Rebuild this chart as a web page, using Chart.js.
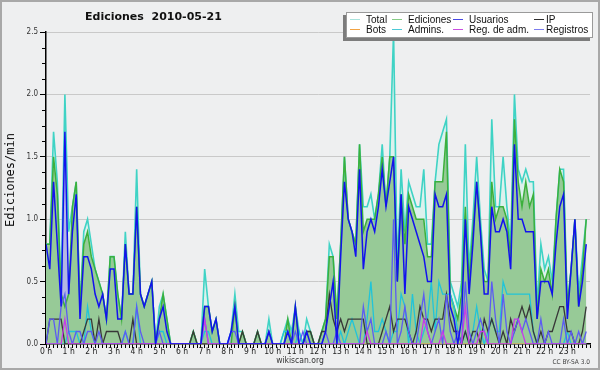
<!DOCTYPE html>
<html><head><meta charset="utf-8">
<script src="https://cdn.jsdelivr.net/npm/chart.js@4.4.1/dist/chart.umd.min.js"></script>
<style>
html,body{margin:0;padding:0;background:#eeeff0;}
#wrap{position:relative;width:600px;height:370px;overflow:hidden;}
canvas{position:absolute;left:0;top:0;}
.t{position:absolute;white-space:pre;color:#111;}
#title{left:85px;top:10px;font:bold 11px/13px "DejaVu Sans",sans-serif;}
#ytitle{left:-50px;top:173px;width:120px;height:14px;text-align:center;font:12px/14px "DejaVu Sans Mono",monospace;transform:rotate(-90deg);}
#legend{position:absolute;left:346px;top:12px;width:245px;height:24px;background:#fff;border:1px solid #9a9a9a;box-shadow:-3px 3px 0 0 #7c7c7c;}
.li{position:absolute;font:10px/10px "Liberation Sans",sans-serif;color:#111;white-space:pre;}
.ls{position:absolute;height:1px;width:10px;}
#site{left:250px;width:100px;text-align:center;top:355px;font:8.5px/10px "DejaVu Sans Condensed","DejaVu Sans",sans-serif;font-stretch:condensed;color:#333;}
#lic{right:10px;top:358px;font:6.5px/8px "DejaVu Sans Condensed","DejaVu Sans",sans-serif;font-stretch:condensed;color:#444;}
</style></head><body>
<div id="wrap">
<canvas id="c" width="600" height="370"></canvas>
<div id="title" class="t">Ediciones  2010-05-21</div>
<div id="ytitle" class="t">Ediciones/min</div>
<div id="legend"></div>
<div id="site" class="t">wikiscan.org</div>
<div id="lic" class="t">CC BY-SA 3.0</div>
</div>
<script>
// x = index of 10-minute slot (0 .. 143), hour labels every 6 slots
const hourLabels = ['0 h','1 h','2 h','3 h','4 h','5 h','6 h','7 h','8 h','9 h','10 h','11 h',
  '12 h','13 h','14 h','15 h','16 h','17 h','18 h','19 h','20 h','21 h','22 h','23 h'];
const seriesNames = ['Total','Ediciones','Usuarios','IP','Bots','Admins.','Reg. de adm.','Registros'];

const total = [
 0.8,0.8,1.7,1.3,0.4,2.0,0.9,1.1,1.3,0.3,0.9,1.0,
 0.8,0.6,0.5,0.4,0.2,0.7,0.7,0.4,0.2,0.9,0.4,0.4,
 1.4,0.4,0.3,0.4,0.5,0,0.3,0.4,0.2,0,0,0,
 0,0,0,0.1,0,0,0.6,0.3,0.1,0.2,0,0,
 0,0.1,0.4,0.1,0.1,0,0,0,0.1,0,0,0.2,
 0,0,0,0.1,0.2,0.1,0.3,0.1,0,0.2,0.1,0,
 0,0.1,0.2,0.8,0.7,0.2,0.8,1.5,1.0,0.9,0.8,1.6,
 1.1,1.1,1.2,1.0,1.2,1.6,1.1,1.5,2.5,0.6,1.4,0.9,
 1.3,1.2,1.1,1.1,1.4,0.8,0.8,1.3,1.6,1.7,1.8,0.5,
 0.4,0.3,0.5,1.6,0.6,1.0,1.5,1.0,0.6,0.5,1.8,1.1,
 1.1,1.5,1.1,0.8,2.0,1.4,1.3,1.4,1.3,1.3,0.3,0.8,
 0.6,0.7,0.5,1.0,1.4,1.4,0.3,0.6,1.0,0.4,0.7,1.0];
const ediciones = [
 0.8,0.8,1.5,1.2,0.4,0.3,0.4,1.1,1.3,0.3,0.8,0.9,
 0.7,0.6,0.5,0.4,0.2,0.7,0.7,0.4,0.2,0.8,0.4,0.4,
 1.1,0.4,0.3,0.4,0.5,0,0.2,0.4,0.2,0,0,0,
 0,0,0,0.1,0,0,0.3,0.3,0.1,0.2,0,0,
 0,0,0.3,0,0.1,0,0,0,0.1,0,0,0.1,
 0,0,0,0,0.2,0,0.3,0,0,0.1,0.1,0,
 0,0.1,0.2,0.7,0.7,0.2,0.8,1.5,1.0,0.9,0.8,1.6,
 0.9,1.0,1.0,1.0,1.2,1.5,1.1,1.5,1.5,0.5,1.2,0.8,
 1.2,1.1,1.0,1.0,1.0,0.7,0.7,1.3,1.3,1.3,1.7,0.4,
 0.3,0.2,0.4,1.1,0.5,0.9,1.3,0.9,0.5,0.5,1.3,1.0,
 1.1,1.1,1.0,0.7,1.8,1.3,1.1,1.3,1.1,1.2,0.2,0.6,
 0.5,0.6,0.4,1.0,1.4,1.3,0.3,0.6,1.0,0.3,0.6,1.0];
const usuarios = [
 0.8,0.6,1.3,0.8,0.3,1.7,0.4,0.9,1.2,0.2,0.7,0.7,
 0.6,0.4,0.3,0.4,0.2,0.6,0.6,0.2,0.2,0.8,0.4,0.4,
 1.1,0.4,0.3,0.4,0.5,0,0.2,0.3,0.1,0,0,0,
 0,0,0,0,0,0,0.3,0.3,0.1,0.2,0,0,
 0,0.1,0.3,0,0,0,0,0,0,0,0,0.1,
 0,0,0,0,0.1,0,0.3,0,0,0.1,0,0,
 0,0,0.1,0.3,0.5,0,0.7,1.3,1.0,0.9,0.7,1.4,
 0.6,0.9,1.0,0.9,1.1,1.4,1.1,1.3,1.5,0.5,1.2,0.4,
 1.1,1.0,0.9,0.8,0.7,0.5,0.5,1.2,1.1,1.1,1.2,0.3,
 0.2,0,0.2,1.0,0.4,0.8,1.3,0.9,0.4,0.4,1.1,0.9,
 0.9,1.0,0.9,0.6,1.6,1.0,1.0,0.9,0.9,0.9,0.2,0.5,
 0.5,0.5,0.4,0.8,1.1,1.2,0.2,0.6,1.0,0.3,0.5,0.8];
const ip = [
 0,0.2,0.2,0.2,0.2,0,0,0,0,0,0.1,0.2,
 0.2,0,0.2,0,0.1,0.1,0.1,0.1,0,0,0,0.2,
 0,0,0,0,0,0,0,0,0,0,0,0,
 0,0,0,0.1,0,0,0,0,0,0,0,0,
 0,0,0,0,0.1,0,0,0,0.1,0,0,0,
 0,0,0,0,0,0,0,0,0,0.1,0.1,0,
 0,0.1,0.1,0.4,0.2,0.1,0.2,0.1,0.2,0.2,0.2,0.2,
 0.2,0,0,0,0,0.1,0.2,0.3,0.1,0.2,0.2,0.2,
 0.1,0,0.1,0.3,0.2,0.2,0.1,0.2,0.2,0.2,0.4,0.2,
 0.1,0.1,0,0.1,0,0.1,0.1,0,0.2,0.1,0.2,0.1,
 0,0.1,0,0.2,0.1,0.2,0.3,0.2,0.3,0.1,0,0.1,
 0,0.1,0.1,0.2,0.3,0.3,0.1,0.1,0,0,0.1,0.3];
const bots = [
 0,0,0,0,0,0,0,0,0,0,0,0, 0,0,0,0,0,0,0,0,0,0,0,0,
 0,0,0,0,0,0,0,0,0,0,0,0, 0,0,0,0,0,0,0,0,0,0,0,0,
 0,0,0,0,0,0,0,0,0,0,0,0, 0,0,0,0,0,0,0,0,0,0,0,0,
 0,0,0,0,0,0,0,0,0,0,0,0, 0,0,0,0,0,0,0,0,0,0,0,0,
 0,0,0,0,0,0,0,0,0,0,0,0, 0,0,0,0,0,0,0,0,0,0,0,0,
 0,0,0,0,0,0,0,0,0,0,0,0, 0,0,0,0,0,0,0,0,0,0,0,0];
const admins = [
 0,0,0,0,0,0,0.1,0.1,0.1,0,0,0.3,
 0.1,0,0,0,0,0,0,0,0,0.1,0,0,
 0.3,0,0,0,0,0,0.1,0.1,0,0,0,0,
 0,0,0,0,0,0,0.1,0.1,0,0,0,0,
 0,0,0,0,0,0,0,0,0,0,0,0,
 0,0,0,0.1,0.1,0,0,0.1,0,0,0,0,
 0,0,0,0,0,0,0.1,0,0.1,0.2,0.1,0,
 0,0.2,0.5,0.1,0.1,0.2,0.1,0,0.1,0.1,0.4,0.3,
 0,0.4,0.1,0,0.1,0.2,0.5,0.1,0.5,0.4,0.4,0.4,
 0.3,0.1,0,0.1,0,0.1,0.3,0.1,0,0.1,0.2,0.1,
 0.1,0.5,0.4,0.4,0.4,0.4,0.4,0.4,0.4,0.1,0,0,
 0,0,0,0,0,0,0.1,0,0,0,0,0];
const regAdm = [
 0,0,0,0,0,0.2,0,0,0,0,0,0,
 0,0,0,0,0,0,0,0,0,0,0,0,
 0,0,0,0,0,0,0,0,0,0,0,0,
 0,0,0,0,0,0,0.2,0,0,0,0,0,
 0,0,0,0,0,0,0,0,0,0,0,0,
 0,0,0,0,0,0,0,0,0,0,0,0,
 0,0,0,0,0,0,0,0,0,0,0,0,
 0,0.1,0,0,0,0,0,0,0,0,0,0,
 0,0,0,0,0.2,0.1,0,0,0,0.1,0,0,
 0,0,0,0.3,0,0,0,0.1,0.1,0,0,0,
 0,0,0,0,0.2,0.2,0.1,0,0,0,0,0,
 0,0,0,0,0,0,0,0,0,0,0,0];
const registros = [
 0,0.2,0.2,0,0.3,0.4,0.1,0,0.1,0.1,0,0.1,
 0.1,0,0.1,0,0,0,0,0,0,0.1,0,0,
 0.3,0.1,0,0,0,0,0.1,0,0,0,0,0,
 0,0,0,0,0,0,0.2,0,0,0,0,0,
 0,0.1,0.1,0,0,0,0,0,0,0,0,0.1,
 0,0,0,0,0.1,0,0.1,0,0.1,0,0,0,
 0,0,0.1,0,0,0.1,0,0,0,0,0,0,
 0.3,0.1,0.2,0,0,0,0.1,0,1.0,0,0.1,0.3,
 0.1,0,0,0.2,0.4,0.1,0,0.1,0.2,0,0.4,0.1,
 0,0.1,0,0.5,0.1,0,0.1,0.2,0.1,0,0.5,0.2,
 0,0.4,0.1,0,0.1,0.2,0.1,0.2,0.1,0,0,0.2,
 0,0.1,0,0,0,0.2,0,0.1,0,0.1,0,0.1];

// styles
const legendColors = ['#a9e3dd','#86cc86','#4848e4','#2e2e2e','#f2a343','#4cc9d6','#c94ee0','#7c7cee'];
const FONT = "'DejaVu Sans Condensed', 'DejaVu Sans', sans-serif";

const pts = arr => arr.map((v, i) => ({x: i, y: v}));
const isMajor = v => Math.abs(v * 2 - Math.round(v * 2)) < 1e-9;

const deco = {
  id: 'deco',
  beforeDraw(chart) {
    const c = chart.ctx;
    c.save();
    c.fillStyle = '#eeeff0';
    c.fillRect(0, 0, chart.width, chart.height);
    c.strokeStyle = '#a8a8a8';
    c.lineWidth = 2;
    c.strokeRect(1, 1, chart.width - 2, chart.height - 2);
    c.restore();
  },
  afterDraw(chart) {
    const y = chart.scales.y, c = chart.ctx;
    c.save();
    c.strokeStyle = '#000';
    c.lineWidth = 1;
    for (const t of y.ticks) {
      if (isMajor(t.value)) continue;
      const py = Math.round(y.getPixelForValue(t.value)) + 0.5;
      c.beginPath(); c.moveTo(y.right - 4, py); c.lineTo(y.right, py); c.stroke();
    }
    c.restore();
  }
};

const lineDs = (label, arr, color, w, order) => ({
  label, data: pts(arr), borderColor: color, borderWidth: w, fill: false, order
});

new Chart(document.getElementById('c'), {
  type: 'line',
  data: {
    datasets: [
      {label: 'Total', data: pts(total), borderColor: '#3fd3c5', backgroundColor: '#dcf1ed', fill: 'origin', borderWidth: 1.6, order: 10},
      {label: 'Usuarios-area', data: pts(usuarios), borderColor: 'rgba(0,0,0,0)', backgroundColor: '#b4b7e3', fill: 'origin', borderWidth: 1, order: 9},
      {label: 'Ediciones', data: pts(ediciones), borderColor: '#3cb03c', backgroundColor: '#97ca97', fill: 'origin', borderWidth: 1.5, order: 8},
      lineDs('Bots', bots, '#f0a040', 1.2, 7),
      lineDs('Admins.', admins, '#22c4d8', 1.3, 6),
      lineDs('IP', ip, '#383838', 1.3, 5),
      lineDs('Registros', registros, '#5c5cf2', 1.3, 4),
      lineDs('Reg. de adm.', regAdm, '#c83ce8', 1.3, 3),
      lineDs('Usuarios', usuarios, '#1212ee', 1.5, 1)
    ]
  },
  options: {
    responsive: false,
    devicePixelRatio: 1,
    animation: false,
    events: [],
    layout: {padding: {top: 32, right: 10, left: 0, bottom: 0}},
    elements: {point: {radius: 0}, line: {tension: 0}},
    plugins: {
      legend: {display: false},
      tooltip: {enabled: false},
      title: {display: false},
      filler: {drawTime: 'beforeDatasetsDraw'}
    },
    scales: {
      x: {
        type: 'linear', min: 0, max: 144, z: 1,
        afterFit: s => { s.height = 26; },
        border: {display: true, color: '#000', width: 1.5},
        grid: {drawOnChartArea: false, drawTicks: true, tickLength: 4, tickColor: '#000', tickWidth: 1},
        ticks: {
          stepSize: 1, autoSkip: false, maxRotation: 0, minRotation: 0, padding: -1,
          color: '#222', font: {family: FONT, size: 8.5},
          callback: v => (v % 6 === 0 && v < 144) ? hourLabels[v / 6] : ''
        }
      },
      y: {
        type: 'linear', min: 0, max: 2.5,
        afterFit: s => { s.width = 46; },
        border: {display: true, color: '#000', width: 1.5},
        grid: {
          color: ctx => (ctx.tick && isMajor(ctx.tick.value) && ctx.tick.value > 0) ? '#c9c9c9' : 'rgba(0,0,0,0)',
          lineWidth: 1, drawTicks: true, tickLength: 6,
          tickColor: ctx => (ctx.tick && isMajor(ctx.tick.value)) ? '#000' : 'rgba(0,0,0,0)'
        },
        ticks: {
          stepSize: 0.125, autoSkip: false, padding: 2,
          color: '#333', font: {family: FONT, size: 8},
          callback: v => isMajor(v) ? v.toFixed(1) : ''
        }
      }
    }
  },
  plugins: [deco]
});

// legend (4 columns x 2 rows)
const lg = document.getElementById('legend');
const colX = [3, 45, 106, 187];
const textX = [19, 61, 122, 199];
seriesNames.forEach((name, k) => {
  const col = k % 4, row = Math.floor(k / 4);
  const s = document.createElement('div');
  s.className = 'ls';
  s.style.left = colX[col] + 'px';
  s.style.top = (6 + row * 10) + 'px';
  s.style.background = legendColors[k];
  lg.appendChild(s);
  const t = document.createElement('div');
  t.className = 'li';
  t.textContent = name;
  t.style.left = textX[col] + 'px';
  t.style.top = (1.5 + row * 10) + 'px';
  lg.appendChild(t);
});
</script>
</body></html>
